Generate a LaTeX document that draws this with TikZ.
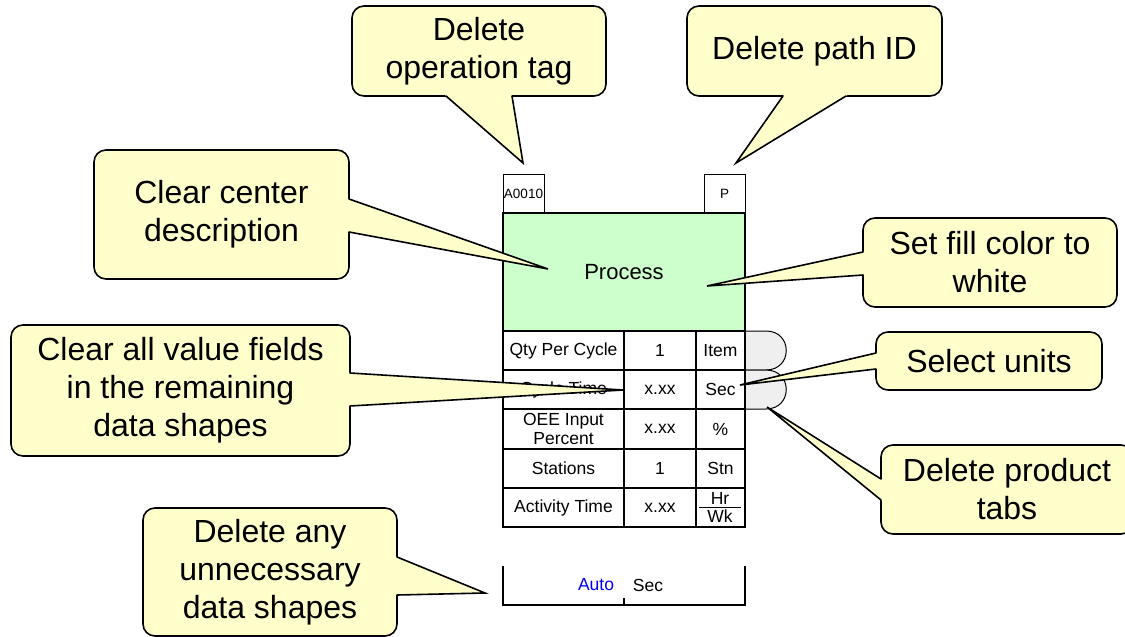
\documentclass[tikz,border=0pt]{standalone}
\usepackage{fontspec}
\setmainfont{Liberation Sans}
\usetikzlibrary{calc}

\definecolor{noteyellow}{HTML}{FFFFCC}
\definecolor{procgreen}{HTML}{CCFFCC}
\definecolor{tabgrey}{HTML}{EFEFEF}
\definecolor{autoblue}{HTML}{0000FF}

\tikzset{
  note/.style={draw=black, fill=noteyellow, line width=1.6pt, rounded corners=12pt,
    inner sep=0pt, outer sep=0pt, align=center, font=\fontsize{32}{38}\selectfont},
  notetail/.style={draw=black, line width=1.6pt, line join=miter, line cap=round},
  tagbox/.style={draw=black, line width=1pt, inner sep=0pt, outer sep=0pt,
    anchor=north west, minimum width=41pt, minimum height=39pt,
    font=\fontsize{13.5}{14}\selectfont},
  procbox/.style={draw=black, fill=procgreen, line width=1.5pt, inner sep=0pt, outer sep=0pt,
    anchor=north west, minimum width=242pt, minimum height=118pt,
    font=\fontsize{22}{24}\selectfont},
  cell/.style={draw=black, line width=1.5pt, inner sep=0pt, outer sep=0pt, anchor=north west,
    align=center, font=\fontsize{17.5}{18.5}\selectfont},
  labelcol/.style={cell, minimum width=121pt},
  valcol/.style={cell, minimum width=72pt},
  unitcol/.style={cell, minimum width=49pt},
  celltext/.style={inner sep=0pt, font=\fontsize{17.5}{18.5}\selectfont},
  tabshape/.style={draw=black, fill=tabgrey, line width=1pt},
  baseline/.style={draw=black, line width=1.3pt},
}

% tail of a callout: #1 tip, #2 and #3 the two base points on the box edge
\newcommand\notetail[3]{%
  \fill[noteyellow] ($(#2)!-3pt!(#1)$) -- (#2) -- (#1) -- (#3) -- ($(#3)!-3pt!(#1)$) -- cycle;
  \draw[notetail] (#2) -- (#1) -- (#3);
}

\begin{document}
\begin{tikzpicture}[x=1pt,y=-1pt]
\useasboundingbox (0,0) rectangle (1125,637);
\clip (0,0) rectangle (1125,637);

% operation and path tags
\node[tagbox] (optag) at (503,174) {A0010};
\node[tagbox] (pathtag) at (704,174) {P};

% process box
\node[procbox] (proc) at (503,213) {Process};

% product tabs (behind the unit column)
\draw[tabshape] (745,331) -- (766,331) .. controls (793,331) and (793,370) .. (766,370) -- (745,370);
\draw[tabshape] (745,370) -- (766,370) .. controls (793,370) and (793,409) .. (766,409) -- (745,409);

% data table
\node[labelcol, minimum height=39pt] (r1a) at (503,331) {Qty Per Cycle};
\node[valcol,   minimum height=39pt] (r1b) at (624,331) {1};
\node[unitcol,  minimum height=39pt] (r1c) at (696,331) {Item};

\node[labelcol, minimum height=39pt] (r2a) at (503,370) {Cycle Time};
\node[valcol,   minimum height=39pt] (r2b) at (624,370) {x.xx};
\node[unitcol,  minimum height=39pt] (r2c) at (696,370) {Sec};

\node[labelcol, minimum height=40pt] (r3a) at (503,409) {OEE Input\\Percent};
\node[valcol,   minimum height=40pt] (r3b) at (624,409) {x.xx};
\node[unitcol,  minimum height=40pt] (r3c) at (696,409) {\%};

\node[labelcol, minimum height=39pt] (r4a) at (503,449) {Stations};
\node[valcol,   minimum height=39pt] (r4b) at (624,449) {1};
\node[unitcol,  minimum height=39pt] (r4c) at (696,449) {Stn};

\node[labelcol, minimum height=39pt] (r5a) at (503,488) {Activity Time};
\node[valcol,   minimum height=39pt] (r5b) at (624,488) {x.xx};
\node[unitcol,  minimum height=39pt] (r5c) at (696,488) {};
\node[celltext] (hr) at (720,498) {Hr};
\node[celltext] (wk) at (720,516) {Wk};
\draw[line width=1pt] (699,507) -- (741,507);

% cycle-time bracket at the bottom
\draw[baseline] (503,566) -- (503,605) -- (745,605) -- (745,566);
\draw[baseline] (624,598) -- (624,605);
\node[celltext, text=autoblue] (auto) at (596,585) {Auto};
\node[celltext] (autounit) at (648,585) {Sec};

% callouts
\node[note, minimum width=254pt, minimum height=90pt] (n1) at (479,51) {Delete\\operation tag};
\coordinate (n1tip) at (523,163);
\coordinate (n1a) at (446,96);
\coordinate (n1b) at (512,96);
\notetail{n1tip}{n1a}{n1b}

\node[note, minimum width=255pt, minimum height=90pt] (n2) at (814.5,51) {Delete path ID};
\coordinate (n2tip) at (736,163);
\coordinate (n2a) at (783,96);
\coordinate (n2b) at (846,96);
\notetail{n2tip}{n2a}{n2b}

\node[note, minimum width=255pt, minimum height=129pt] (n3) at (221.5,214.5) {Clear center\\description};
\coordinate (n3tip) at (548,269);
\coordinate (n3a) at (349,199);
\coordinate (n3b) at (349,232);
\notetail{n3tip}{n3a}{n3b}

\node[note, minimum width=254pt, minimum height=89pt] (n4) at (990,262.5) {Set fill color to\\white};
\coordinate (n4tip) at (707,286);
\coordinate (n4a) at (863,252);
\coordinate (n4b) at (863,275);
\notetail{n4tip}{n4a}{n4b}

\node[note, minimum width=339pt, minimum height=131pt] (n5) at (180.5,390.5) {Clear all value fields\\in the remaining\\data shapes};
\coordinate (n5tip) at (623,390);
\coordinate (n5a) at (350,373);
\coordinate (n5b) at (350,406);
\notetail{n5tip}{n5a}{n5b}

\node[note, minimum width=226pt, minimum height=58pt] (n6) at (989,361) {Select units};
\coordinate (n6tip) at (740,385);
\coordinate (n6a) at (876,353);
\coordinate (n6b) at (876,369);
\notetail{n6tip}{n6a}{n6b}

\node[note, minimum width=252pt, minimum height=89pt] (n7) at (1007,489.5) {Delete product\\tabs};
\coordinate (n7tip) at (767,407);
\coordinate (n7a) at (881,479);
\coordinate (n7b) at (881,500);
\notetail{n7tip}{n7a}{n7b}

\node[note, minimum width=254pt, minimum height=128pt] (n8) at (270,572) {Delete any\\unnecessary\\data shapes};
\coordinate (n8tip) at (485,593);
\coordinate (n8a) at (397,557);
\coordinate (n8b) at (397,595);
\notetail{n8tip}{n8a}{n8b}

\end{tikzpicture}
\end{document}
